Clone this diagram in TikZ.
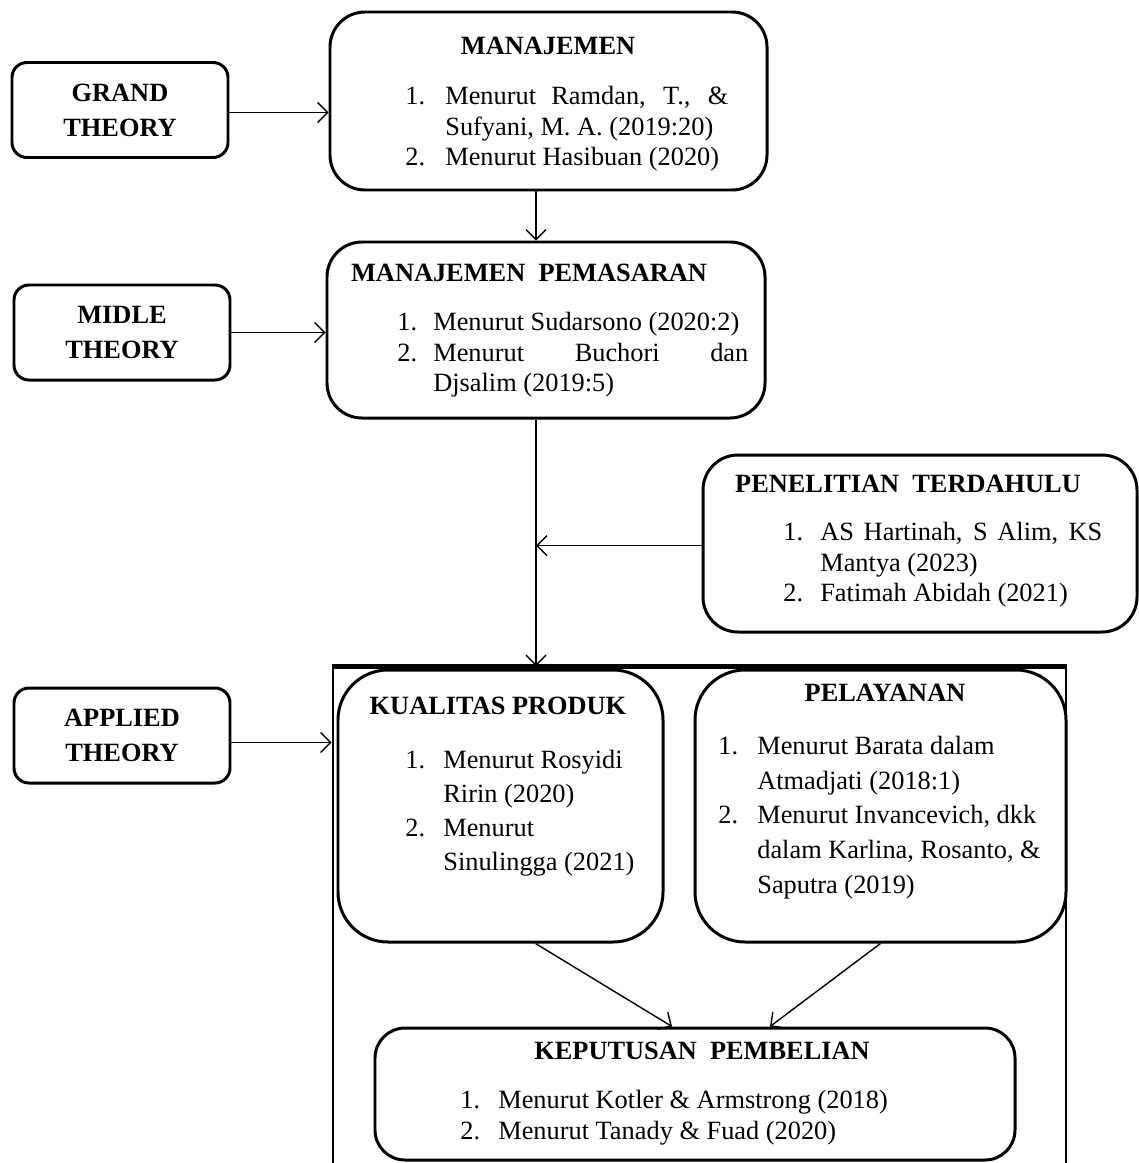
\documentclass[tikz,border=0pt]{standalone}
\usepackage{fontspec}
\setmainfont{Liberation Serif}
\usetikzlibrary{positioning, arrows.meta, calc}

% numbered list set as a two column table
\newcommand{\reflist}[2]{\begin{tabular}{@{}p{#1}@{}l@{}}#2\end{tabular}}

\begin{document}
\begin{tikzpicture}[
    every node/.style={font=\fontsize{15}{17.3}\selectfont},
    theorybox/.style={draw, line width=1.7pt, rounded corners=0.3cm, minimum width=4.32cm,
        minimum height=1.9cm, align=center, font=\fontsize{15}{20}\selectfont\bfseries},
    topicbox/.style={draw, line width=1.7pt, inner sep=0pt},
    title/.style={font=\fontsize{15}{17.3}\selectfont\bfseries, inner sep=0pt},
    items/.style={anchor=west, inner sep=0pt},
    link/.style={-{Straight Barb[length=2mm, width=4mm]}, line width=0.8pt}
]
    \useasboundingbox (0,0) rectangle (22.78,-23.26);

    % Theory boxes on the left
    \node (grand)   [theorybox] at (2.40,-2.2)   {GRAND\\THEORY};
    \node (midle)   [theorybox] at (2.44,-6.65)  {MIDLE\\THEORY};
    \node (applied) [theorybox] at (2.44,-14.71) {APPLIED\\THEORY};

    % Manajemen
    \node (manajemen) [topicbox, rounded corners=0.7cm, minimum width=8.74cm, minimum height=3.56cm] at (10.97,-2.02) {};
    \node (manajemen_t) [title] at (10.96,-0.92) {MANAJEMEN};
    \node (manajemen_l) [items] at (8.1,-2.58) {\reflist{0.8cm}{%
        1. & \makebox[5.66cm][s]{Menurut Ramdan, T., \&}\\
           & Sufyani, M. A. (2019:20)\\
        2. & Menurut Hasibuan (2020)}};

    % Manajemen pemasaran
    \node (pemasaran) [topicbox, rounded corners=0.7cm, minimum width=8.76cm, minimum height=3.52cm] at (10.92,-6.6) {};
    \node (pemasaran_t) [title] at (10.58,-5.46) {MANAJEMEN\ \ PEMASARAN};
    \node (pemasaran_l) [items] at (7.94,-7.1) {\reflist{0.72cm}{%
        1. & Menurut Sudarsono (2020:2)\\
        2. & \makebox[6.3cm][s]{Menurut Buchori dan}\\
           & Djsalim (2019:5)}};

    % Penelitian terdahulu
    \node (penelitian) [topicbox, rounded corners=0.7cm, minimum width=8.68cm, minimum height=3.54cm] at (18.4,-10.87) {};
    \node (penelitian_t) [title] at (18.16,-9.68) {PENELITIAN\ \ TERDAHULU};
    \node (penelitian_l) [items] at (15.66,-11.3) {\reflist{0.74cm}{%
        1. & \makebox[5.64cm][s]{AS Hartinah, S Alim, KS}\\
           & Mantya (2023)\\
        2. & Fatimah Abidah (2021)}};

    % Frame round the variables
    \node (frame) [draw, line width=1.5pt, inner sep=0pt, anchor=north, minimum width=14.66cm, minimum height=10.2cm] at (13.99,-13.32) {};
    \draw [line width=2.5pt] (frame.north west) -- (frame.north east);

    \node (kualitas) [topicbox, rounded corners=1cm, minimum width=6.5cm, minimum height=5.44cm] at (10.01,-16.12) {};
    \node (kualitas_t) [title] at (9.96,-14.12) {KUALITAS PRODUK};
    \node (kualitas_l) [items, font=\fontsize{15}{19.4}\selectfont] at (8.1,-16.25) {\reflist{0.76cm}{%
        1. & Menurut Rosyidi\\
           & Ririn (2020)\\
        2. & Menurut\\
           & Sinulingga (2021)}};

    \node (pelayanan) [topicbox, rounded corners=1cm, minimum width=7.42cm, minimum height=5.44cm] at (17.61,-16.12) {};
    \node (pelayanan_t) [title] at (17.7,-13.86) {PELAYANAN};
    \node (pelayanan_l) [items, font=\fontsize{15}{19.8}\selectfont] at (14.36,-16.34) {\reflist{0.78cm}{%
        1. & Menurut Barata dalam\\
           & Atmadjati (2018:1)\\
        2. & Menurut Invancevich, dkk\\
           & dalam Karlina, Rosanto, \&\\
           & Saputra (2019)}};

    \node (keputusan) [topicbox, rounded corners=0.6cm, minimum width=12.8cm, minimum height=2.64cm] at (13.9,-21.88) {};
    \node (keputusan_t) [title] at (14.04,-21.02) {KEPUTUSAN\ \ PEMBELIAN};
    \node (keputusan_l) [items] at (9.2,-22.36) {\reflist{0.76cm}{%
        1. & Menurut Kotler \& Armstrong (2018)\\
        2. & Menurut Tanady \& Fuad (2020)}};

    % Draw the edges
    \coordinate (spine) at (10.72,0);
    \draw [link] ([yshift=-0.05cm]grand.east) -- ([yshift=-0.05cm]grand.east -| manajemen.west);
    \draw [link] (midle.east) -- (midle.east -| pemasaran.west);
    \draw [link] ([yshift=-0.14cm]applied.east) -- ([yshift=-0.14cm]applied.east -| frame.west);
    \draw [link] (manajemen.south -| spine) -- (pemasaran.north -| spine);
    \draw [link] (pemasaran.south -| spine) -- (frame.north -| spine);
    \draw [link] ([yshift=-0.04cm]penelitian.west) -- ([yshift=-0.04cm]penelitian.west -| spine);
    \draw [link] ([xshift=0.7cm]kualitas.south) -- ([xshift=-0.46cm]keputusan.north);
    \draw [link] (pelayanan.south) -- ([xshift=1.5cm]keputusan.north);
\end{tikzpicture}
\end{document}
